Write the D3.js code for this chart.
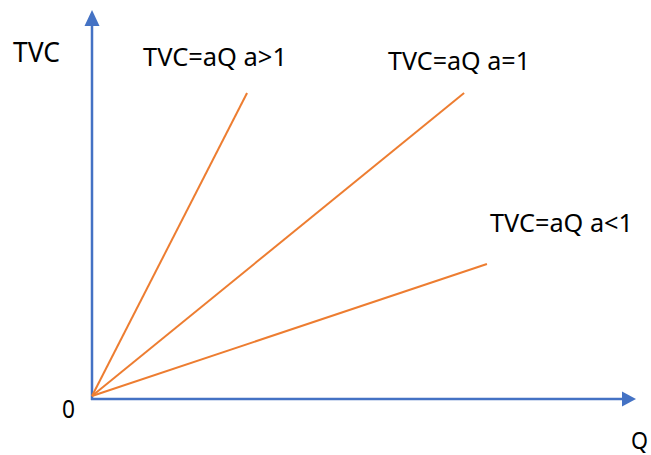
<!DOCTYPE html>
<html>
<head>
<meta charset="utf-8">
<script src="https://cdn.jsdelivr.net/npm/d3@7"></script>
<style>
  html, body { margin: 0; padding: 0; background: #fff; }
  svg { display: block; }
</style>
</head>
<body>
<div id="chart"></div>
<script>
// series: each line from origin to its end point (Q, TVC) in chart units
const lineNames = ["a>1", "a=1", "a<1"]
const qEnd = [28.5, 68.4, 72.6]
const tvcEnd = [78.5, 78.5, 34.2]
const labelText = ["TVC=aQ a>1", "TVC=aQ a=1", "TVC=aQ a<1"]

const width = 651
const height = 455
const blue = "#4472C4"
const orange = "#ED7D31"

const x = d3.scaleLinear().domain([0, 100]).range([92, 636])
const y = d3.scaleLinear().domain([0, 100]).range([396, 10])

const svg = d3.select("#chart")
  .append("svg")
  .attr("width", width)
  .attr("height", height)

// --- axes with arrowheads ---
const axisY = y(0) + 3
svg.append("line")
  .attr("x1", x(0)).attr("x2", x(0))
  .attr("y1", axisY + 1).attr("y2", y(100) + 14)
  .attr("stroke", blue).attr("stroke-width", 2.5)
svg.append("path")
  .attr("d", `M${x(0)},${y(100)} L${x(0) - 7.5},${y(100) + 16} L${x(0) + 7.5},${y(100) + 16} Z`)
  .attr("fill", blue)

svg.append("line")
  .attr("x1", x(0) - 1).attr("x2", x(100) - 13)
  .attr("y1", axisY).attr("y2", axisY)
  .attr("stroke", blue).attr("stroke-width", 2.5)
svg.append("path")
  .attr("d", `M${x(100)},${axisY} L${x(100) - 14},${axisY - 7.5} L${x(100) - 14},${axisY + 7.5} Z`)
  .attr("fill", blue)

// --- TVC lines ---
const line = d3.line().x(d => x(d[0])).y(d => y(d[1]))
lineNames.forEach((name, i) => {
  svg.append("path")
    .attr("d", line([[0, 0], [qEnd[i], tvcEnd[i]]]))
    .attr("fill", "none")
    .attr("stroke", orange)
    .attr("stroke-width", 2)
})

// --- text ---
const font = "'Noto Sans', 'Open Sans', sans-serif"
function label(t, px, py, w, size) {
  svg.append("text")
    .attr("x", px).attr("y", py)
    .attr("font-family", font)
    .attr("font-size", size)
    .attr("fill", "#000")
    .attr("textLength", w)
    .attr("lengthAdjust", "spacingAndGlyphs")
    .text(t)
}

const labelPos = [[143, 66, 144], [388, 70, 142], [490, 232, 143]]
labelText.forEach((t, i) => label(t, labelPos[i][0], labelPos[i][1], labelPos[i][2], 25))

label("TVC", 13, 62, 47, 27)
label("0", 62, 418, 13, 25)
label("Q", 631, 449, 17, 24)
</script>
</body>
</html>
